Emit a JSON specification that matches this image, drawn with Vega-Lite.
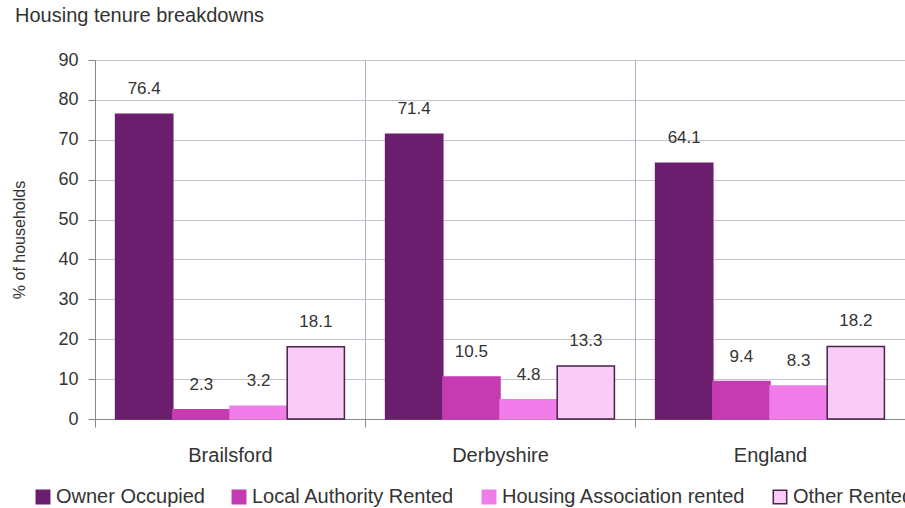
{
  "$schema": "https://vega.github.io/schema/vega-lite/v6.json",
  "width": 810,
  "height": 359,
  "autosize": {"type": "none"},
  "padding": {"left": 95, "top": 60, "right": 0, "bottom": 89},
  "background": "white",
  "title": {
    "text": "Housing tenure breakdowns",
    "anchor": "start",
    "frame": "group",
    "dx": -80,
    "offset": 25,
    "fontSize": 20,
    "fontWeight": "normal",
    "color": "#333333"
  },
  "data": {
    "values": [
      {"area": "Brailsford", "tenure": "Owner Occupied", "pct": 76.4},
      {"area": "Brailsford", "tenure": "Local Authority Rented", "pct": 2.3},
      {"area": "Brailsford", "tenure": "Housing Association rented", "pct": 3.2},
      {"area": "Brailsford", "tenure": "Other Rented", "pct": 18.1},
      {"area": "Derbyshire", "tenure": "Owner Occupied", "pct": 71.4},
      {"area": "Derbyshire", "tenure": "Local Authority Rented", "pct": 10.5},
      {"area": "Derbyshire", "tenure": "Housing Association rented", "pct": 4.8},
      {"area": "Derbyshire", "tenure": "Other Rented", "pct": 13.3},
      {"area": "England", "tenure": "Owner Occupied", "pct": 64.1},
      {"area": "England", "tenure": "Local Authority Rented", "pct": 9.4},
      {"area": "England", "tenure": "Housing Association rented", "pct": 8.3},
      {"area": "England", "tenure": "Other Rented", "pct": 18.2}
    ]
  },
  "encoding": {
    "x": {
      "field": "area",
      "type": "nominal",
      "sort": ["Brailsford", "Derbyshire", "England"],
      "scale": {"paddingInner": 0, "paddingOuter": 0},
      "axis": {
        "title": null,
        "labelAngle": 0,
        "labelFontSize": 20,
        "labelPadding": 18,
        "labelColor": "#333333",
        "tickSize": 8,
        "tickBand": "extent",
        "tickColor": "#888888",
        "domainColor": "#888888",
        "grid": true,
        "gridColor": "#a8b4c6"
      }
    },
    "xOffset": {
      "field": "tenure",
      "type": "nominal",
      "sort": ["Owner Occupied", "Local Authority Rented", "Housing Association rented", "Other Rented"],
      "scale": {"paddingInner": 0, "paddingOuter": 0.36}
    },
    "y": {
      "field": "pct",
      "type": "quantitative",
      "scale": {"domain": [0, 90]},
      "axis": {
        "values": [0, 10, 20, 30, 40, 50, 60, 70, 80, 90],
        "title": "% of households",
        "titleFontSize": 16,
        "titleFontWeight": "normal",
        "titleColor": "#333333",
        "titlePadding": 30,
        "labelFontSize": 18,
        "labelColor": "#333333",
        "labelPadding": 10,
        "tickSize": 7,
        "tickColor": "#888888",
        "domainColor": "#888888",
        "grid": true,
        "gridColor": "#c4c4cc"
      }
    }
  },
  "layer": [
    {
      "mark": {"type": "bar", "strokeWidth": 1.5},
      "encoding": {
        "fill": {
          "field": "tenure",
          "type": "nominal",
          "scale": {
            "domain": ["Owner Occupied", "Local Authority Rented", "Housing Association rented", "Other Rented"],
            "range": ["#6b1e6d", "#c43bb2", "#f07cea", "#f9cbf7"]
          },
          "legend": {
            "orient": "none",
            "legendX": -62,
            "legendY": 427,
            "direction": "horizontal",
            "columns": 4,
            "title": null,
            "symbolType": "square",
            "symbolSize": 180,
            "symbolStrokeWidth": 1.5,
            "labelFontSize": 20,
            "labelOffset": 3,
            "labelLimit": 400,
            "labelColor": "#333333",
            "columnPadding": 24
          }
        },
        "stroke": {
          "field": "tenure",
          "type": "nominal",
          "scale": {
            "domain": ["Owner Occupied", "Local Authority Rented", "Housing Association rented", "Other Rented"],
            "range": ["#6b1e6d", "#c43bb2", "#f07cea", "#4a2148"]
          },
          "legend": {
            "orient": "none",
            "legendX": -62,
            "legendY": 427,
            "direction": "horizontal",
            "columns": 4,
            "title": null,
            "symbolType": "square",
            "symbolSize": 180,
            "symbolStrokeWidth": 1.5,
            "labelFontSize": 20,
            "labelOffset": 3,
            "labelLimit": 400,
            "labelColor": "#333333",
            "columnPadding": 24
          }
        }
      }
    },
    {
      "mark": {"type": "text", "baseline": "bottom", "dy": -16, "fontSize": 17, "color": "#333333"},
      "encoding": {
        "text": {"field": "pct", "type": "quantitative", "format": ".1f"}
      }
    }
  ],
  "config": {
    "font": "Liberation Sans",
    "view": {"stroke": null}
  }
}
